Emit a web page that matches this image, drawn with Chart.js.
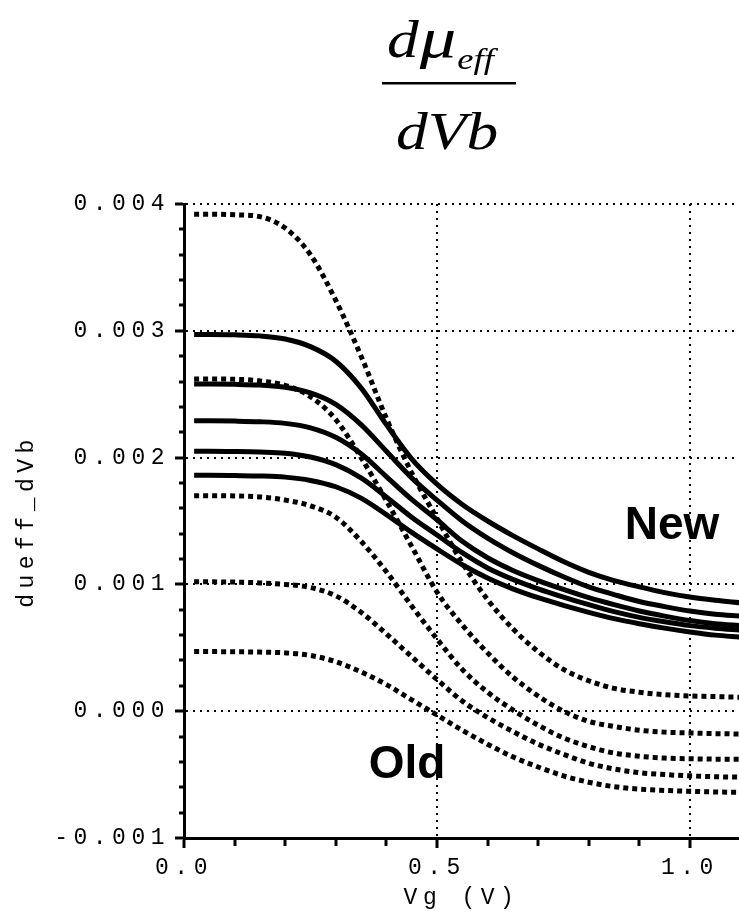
<!DOCTYPE html>
<html>
<head>
<meta charset="utf-8">
<script src="https://cdn.jsdelivr.net/npm/chart.js@4.4.1/dist/chart.umd.min.js"></script>
<style>
html,body{margin:0;padding:0;background:#fff;}
#wrap{position:relative;width:739px;height:916px;}
canvas{display:block;}
</style>
</head>
<body>
<div id="wrap"><canvas id="c" width="739" height="916"></canvas></div>
<script>
// ---- DATA (Vg in V; dueff_dVb values in units of 1e-3) ----
const vg = [0.02,0.05,0.1,0.15,0.2,0.25,0.3,0.35,0.4,0.45,0.5,0.55,0.6,0.65,0.7,0.75,0.8,0.85,0.9,0.95,1.0,1.05,1.1];

// "New" model (solid lines)
const new1 = [2.97,2.97,2.968,2.96,2.935,2.875,2.76,2.55,2.26,1.99,1.79,1.63,1.50,1.385,1.28,1.18,1.095,1.03,0.98,0.935,0.90,0.875,0.855];
const new2 = [2.58,2.58,2.578,2.572,2.555,2.51,2.42,2.26,2.05,1.84,1.665,1.50,1.365,1.25,1.15,1.06,0.98,0.92,0.865,0.825,0.79,0.765,0.75];
const new3 = [2.29,2.29,2.288,2.283,2.27,2.235,2.16,2.03,1.85,1.67,1.51,1.34,1.21,1.11,1.03,0.96,0.895,0.84,0.79,0.75,0.715,0.69,0.675];
const new4 = [2.05,2.05,2.048,2.044,2.035,2.005,1.945,1.84,1.69,1.53,1.39,1.25,1.13,1.04,0.965,0.90,0.84,0.785,0.74,0.705,0.675,0.655,0.64];
const new5 = [1.86,1.86,1.858,1.855,1.846,1.82,1.77,1.68,1.55,1.41,1.28,1.155,1.05,0.965,0.895,0.835,0.78,0.73,0.69,0.655,0.625,0.60,0.585];

// "Old" model (dotted lines)
const old1 = [3.92,3.92,3.915,3.90,3.81,3.60,3.24,2.80,2.31,1.88,1.52,1.17,0.88,0.65,0.47,0.33,0.24,0.18,0.15,0.13,0.12,0.115,0.11];
const old2 = [2.62,2.62,2.618,2.605,2.57,2.48,2.30,2.00,1.66,1.30,0.94,0.68,0.46,0.27,0.12,0.0,-0.08,-0.12,-0.15,-0.165,-0.172,-0.177,-0.18];
const old3 = [1.70,1.70,1.698,1.69,1.665,1.62,1.53,1.34,1.10,0.83,0.57,0.33,0.15,0.01,-0.11,-0.21,-0.28,-0.33,-0.355,-0.37,-0.375,-0.378,-0.38];
const old4 = [1.02,1.02,1.018,1.012,1.0,0.975,0.91,0.78,0.61,0.43,0.25,0.08,-0.05,-0.16,-0.26,-0.34,-0.41,-0.455,-0.485,-0.50,-0.51,-0.517,-0.52];
const old5 = [0.47,0.47,0.469,0.466,0.46,0.44,0.39,0.31,0.21,0.09,-0.03,-0.15,-0.26,-0.36,-0.44,-0.51,-0.56,-0.595,-0.615,-0.625,-0.632,-0.637,-0.64];

const xTickLabels = ['0.0','0.5','1.0'];
const yTickLabels = ['-0.001','0.000','0.001','0.002','0.003','0.004'];
const xTitle = 'Vg (V)';
const yTitle = 'dueff_dVb';
const labelNew = 'New', labelOld = 'Old';
const newLabelAt = {x: 0.871, y: 0.00136};
const oldLabelAt = {x: 0.365, y: -0.00053};

// ---- BUILD ----
const pts = ys => vg.map((x, i) => ({x: x, y: ys[i] * 1e-3}));
const solid = ys => ({data: pts(ys), borderColor: '#000', borderWidth: 5, pointRadius: 0,
  fill: false, cubicInterpolationMode: 'monotone', borderCapStyle: 'butt', borderJoinStyle: 'round'});
const dotted = ys => Object.assign(solid(ys), {borderDash: [5, 4]});

const datasets = [
  solid(new1), solid(new2), solid(new3), solid(new4), solid(new5),
  dotted(old1), dotted(old2), dotted(old3), dotted(old4), dotted(old5)
];

const monoFont = {family: '"Liberation Mono", "DejaVu Sans Mono", monospace', size: 23};
const SPACING = '5.5px';

const isMajorX = v => Math.abs(v * 2 - Math.round(v * 2)) < 1e-6;
const isMajorY = v => Math.abs(v * 1000 - Math.round(v * 1000)) < 1e-6;

const xLabel = v => { const i = xTickLabels.indexOf(v.toFixed(1)); return isMajorX(v) && i >= 0 ? xTickLabels[i] : ''; };
const yLabel = v => {
  if (!isMajorY(v)) return '';
  const k = Math.round(v * 1000);
  const s = (k < 0 ? '-' : '') + (Math.abs(k) / 1000).toFixed(3);
  return yTickLabels.indexOf(s) >= 0 ? s : '';
};

const spacingPlugin = {
  id: 'spacing',
  beforeUpdate(c) { c.ctx.letterSpacing = SPACING; },
  beforeDraw(c) { c.ctx.letterSpacing = SPACING; }
};

const decorPlugin = {
  id: 'decor',
  afterDraw(chart) {
    const ctx = chart.ctx;
    ctx.save();
    ctx.letterSpacing = '0px';
    ctx.fillStyle = '#000';
    ctx.textBaseline = 'alphabetic';
    ctx.textAlign = 'left';
    const put = (s, x, y, size, sx) => {
      const f = 'italic ' + size + 'px "Liberation Serif", "DejaVu Serif", serif';
      ctx.save(); ctx.translate(x, y); ctx.scale(sx, 1); ctx.font = f;
      ctx.fillText(s, 0, 0); ctx.restore();
      ctx.font = f;
      return x + ctx.measureText(s).width * sx;
    };
    let x = put('d', 387, 57, 52, 1.22);
    x = put('\u03BC', x + 1, 57, 56, 1.3);
    put('eff', x + 1, 69, 30, 1.22);
    ctx.fillRect(382, 82, 134, 2.5);
    put('dVb', 396, 149, 52, 1.22);

    const xs = chart.scales.x, ys = chart.scales.y;
    ctx.font = 'bold 46px "Liberation Sans", Arial, sans-serif';
    ctx.fillText(labelNew, xs.getPixelForValue(newLabelAt.x), ys.getPixelForValue(newLabelAt.y));
    ctx.fillText(labelOld, xs.getPixelForValue(oldLabelAt.x), ys.getPixelForValue(oldLabelAt.y));
    ctx.restore();
  }
};

new Chart(document.getElementById('c'), {
  type: 'line',
  data: {datasets: datasets},
  plugins: [spacingPlugin, decorPlugin],
  options: {
    responsive: false,
    animation: false,
    layout: {padding: {top: 204, right: 0, left: 0, bottom: 0}},
    plugins: {legend: {display: false}, tooltip: {enabled: false}, title: {display: false}},
    scales: {
      x: {
        type: 'linear', min: 0, max: 1.097,
        afterFit: s => { s.height = 78; },
        ticks: {stepSize: 0.1, includeBounds: false, autoSkip: false, maxRotation: 0,
          callback: v => xLabel(v), color: '#000', font: monoFont, padding: 6},
        grid: {
          color: c => (c.tick && isMajorX(c.tick.value)) ? '#000' : 'rgba(0,0,0,0)',
          lineWidth: 2, tickColor: '#000', tickLength: 10, tickWidth: 3,
          tickBorderDash: c => (c.tick && isMajorX(c.tick.value)) ? [] : [6, 100]
        },
        border: {display: true, color: '#000', width: 3, dash: [2, 5]},
        title: {display: true, text: xTitle, color: '#000', font: monoFont, padding: {top: 0, bottom: 4}}
      },
      y: {
        type: 'linear', min: -0.001, max: 0.004,
        afterFit: s => { s.width = 184; },
        ticks: {stepSize: 0.0002, includeBounds: false, autoSkip: false,
          callback: v => yLabel(v), color: '#000', font: monoFont, padding: 5},
        grid: {
          color: c => (c.tick && isMajorY(c.tick.value)) ? '#000' : 'rgba(0,0,0,0)',
          lineWidth: 2, tickColor: '#000', tickLength: 9, tickWidth: 3,
          tickBorderDash: c => (c.tick && isMajorY(c.tick.value)) ? [] : [0, 4, 10, 100]
        },
        border: {display: true, color: '#000', width: 3, dash: [2, 5]},
        title: {display: true, text: yTitle, color: '#000', font: monoFont, padding: {top: 13, bottom: 0}}
      }
    }
  }
});
</script>
</body>
</html>
